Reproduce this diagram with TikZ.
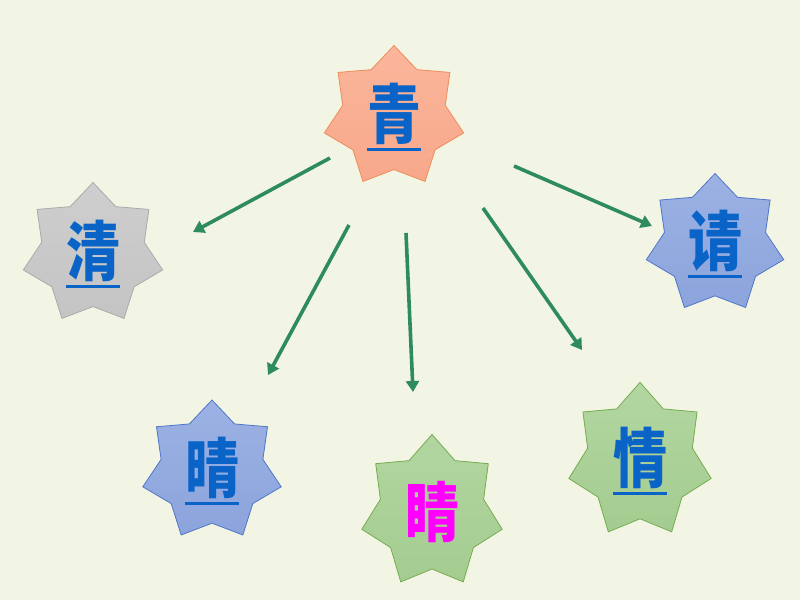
\documentclass[tikz,border=0pt]{standalone}
\usepackage{fontspec}
\usepackage{graphicx}
\newfontfamily\cjk{Noto Sans CJK SC}
\usetikzlibrary{shapes.geometric,arrows.meta}
\definecolor{bgcol}{RGB}{243,245,228}
\definecolor{arrcol}{RGB}{46,140,92}
\definecolor{txtblue}{RGB}{10,100,200}
\definecolor{txtmag}{RGB}{255,0,255}
\definecolor{orfill}{RGB}{248,168,138}
\definecolor{ortop}{RGB}{250,182,155}
\definecolor{ordraw}{RGB}{238,140,90}
\definecolor{grfill}{RGB}{196,196,196}
\definecolor{grtop}{RGB}{206,206,206}
\definecolor{grdraw}{RGB}{170,170,170}
\definecolor{blfill}{RGB}{140,164,220}
\definecolor{bltop}{RGB}{156,178,228}
\definecolor{bldraw}{RGB}{80,118,200}
\definecolor{gnfill}{RGB}{164,204,144}
\definecolor{gntop}{RGB}{178,214,160}
\definecolor{gndraw}{RGB}{118,172,80}
\newcommand\ulglyph[1]{\leavevmode\setbox0=\hbox{#1}\rlap{\copy0}\raisebox{-11pt}{\rule{\wd0}{2.6pt}}}
\newcommand\charfmt[3][1.2]{{\cjk\bfseries\fontsize{54}{60}\selectfont\color{#2}\scalebox{1}[#1]{#3}}}
\tikzset{
  starbox/.style={star, star points=7, star point ratio=1.36, inner sep=0pt, line width=0.8pt},
  arr/.style={draw=arrcol, line width=3.6pt, -{Triangle[length=11pt,width=13pt]}},
}
\begin{document}
\begin{tikzpicture}[x=1pt,y=-1pt]
\fill[bgcol] (0,0) rectangle (800,600);
\useasboundingbox (0,0) rectangle (800,600);
% stars
\node[starbox, draw=ordraw, top color=ortop, bottom color=orfill, minimum size=143pt] (qing0) at (394,117) {\charfmt{txtblue}{\ulglyph{青}}};
\node[starbox, draw=grdraw, top color=grtop, bottom color=grfill, minimum size=143pt] (qing1) at (93,254) {\charfmt{txtblue}{\ulglyph{清}}};
\node[starbox, draw=bldraw, top color=bltop, bottom color=blfill, minimum size=141pt] (qing2) at (715,244) {\charfmt{txtblue}{\ulglyph{请}}};
\node[starbox, draw=bldraw, top color=bltop, bottom color=blfill, minimum size=142pt] (qing3) at (212,471) {\charfmt{txtblue}{\ulglyph{晴}}};
\begin{scope}[shift={(432,512)}, yscale=1.077]
\node[starbox, transform shape, draw=gndraw, top color=gntop, bottom color=gnfill, minimum size=144pt] (jing) at (0,0) {\charfmt[1.114]{txtmag}{睛}};
\end{scope}
\begin{scope}[shift={(640,461)}, yscale=1.077]
\node[starbox, transform shape, draw=gndraw, top color=gntop, bottom color=gnfill, minimum size=146pt] (qing4) at (0,0) {\charfmt[1.114]{txtblue}{\ulglyph{情}}};
\end{scope}
% arrow end points
\coordinate (s1) at (330,158); \coordinate (e1) at (193,232);
\coordinate (s2) at (349,225); \coordinate (e2) at (268,375);
\coordinate (s3) at (406,233); \coordinate (e3) at (413,392);
\coordinate (s4) at (483,208); \coordinate (e4) at (582,350);
\coordinate (s5) at (514,166); \coordinate (e5) at (652,226);
\draw[arr] (s1) -- (e1);
\draw[arr] (s2) -- (e2);
\draw[arr] (s3) -- (e3);
\draw[arr] (s4) -- (e4);
\draw[arr] (s5) -- (e5);
\end{tikzpicture}
\end{document}
